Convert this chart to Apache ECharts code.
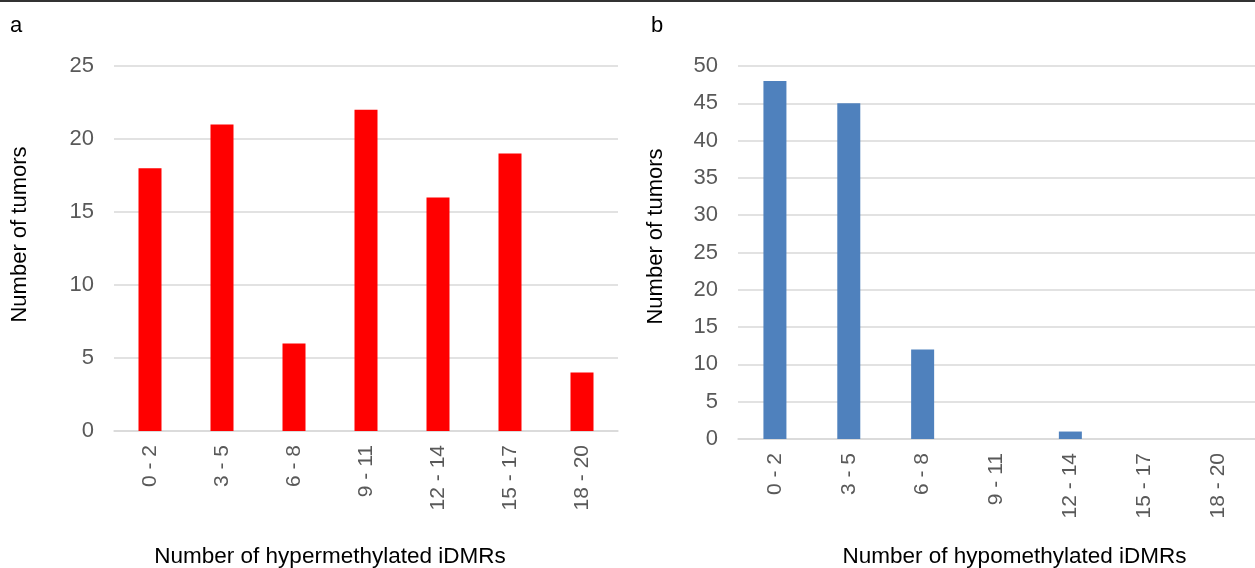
<!DOCTYPE html>
<html><head><meta charset="utf-8">
<script src="https://cdn.jsdelivr.net/npm/echarts@6/dist/echarts.min.js"></script>
<style>html,body{margin:0;padding:0;background:#fff;}#c{width:1255px;height:568px;}#top{position:absolute;left:0;top:0;width:1255px;height:2px;background:#333;z-index:5;}</style>
</head><body><div id="top"></div><div id="c"></div>
<script>
var categories = ['0 - 2','3 - 5','6 - 8','9 - 11','12 - 14','15 - 17','18 - 20'];
var hyperValues = [18,21,6,22,16,19,4];
var hypoValues = [48,45,12,0,1,0,0];
var hyperTitle = 'Number of hypermethylated iDMRs';
var hypoTitle = 'Number of hypomethylated iDMRs';
var yName = 'Number of tumors';

var chart = echarts.init(document.getElementById('c'));
var font = 'Arial, "Liberation Sans", sans-serif';
function xAxis(idx, name, gap, pad){
  return {type:'category', gridIndex:idx, data:categories, name:name, nameLocation:'middle', nameGap:gap,
    nameTextStyle:{color:'#000', fontSize:22.5, fontFamily:font, padding:pad},
    axisLine:{lineStyle:{color:'#d9d9d9', width:1.5}}, axisTick:{show:false},
    axisLabel:{rotate:90, interval:0, margin:14, color:'#595959', fontSize:21, fontFamily:font}};
}
function yAxis(idx, max, gap, pad){
  return {type:'value', gridIndex:idx, min:0, max:max, interval:5, name:yName, nameLocation:'middle', nameGap:gap,
    nameTextStyle:{color:'#000', fontSize:22, fontFamily:font, padding:pad},
    axisLine:{show:false}, axisTick:{show:false},
    splitLine:{lineStyle:{color:'#d9d9d9', width:1.5}},
    axisLabel:{margin:20, color:'#595959', fontSize:22, fontFamily:font}};
}
chart.setOption({
  animation:false,
  graphic:[
    {type:'text', left:10, top:15, style:{text:'a', fontSize:22, fill:'#000', fontFamily:font}},
    {type:'text', left:651, top:15, style:{text:'b', fontSize:22, fill:'#000', fontFamily:font}}
  ],
  grid:[
    {left:114, right:637, top:66, bottom:137, outerBoundsMode:'none'},
    {left:738, right:0, top:66, bottom:129, outerBoundsMode:'none'}
  ],
  xAxis:[xAxis(0, hyperTitle, 114, [0,72,0,0]), xAxis(1, hypoTitle, 106, [0,0,0,36])],
  yAxis:[yAxis(0, 25, 83, [0,0,0,28]), yAxis(1, 50, 71, [0,0,0,32])],
  series:[
    {type:'bar', xAxisIndex:0, yAxisIndex:0, data:hyperValues, barWidth:23, itemStyle:{color:'#ff0000'}},
    {type:'bar', xAxisIndex:1, yAxisIndex:1, data:hypoValues, barWidth:23, itemStyle:{color:'#4f81bd'}}
  ]
});
</script></body></html>
